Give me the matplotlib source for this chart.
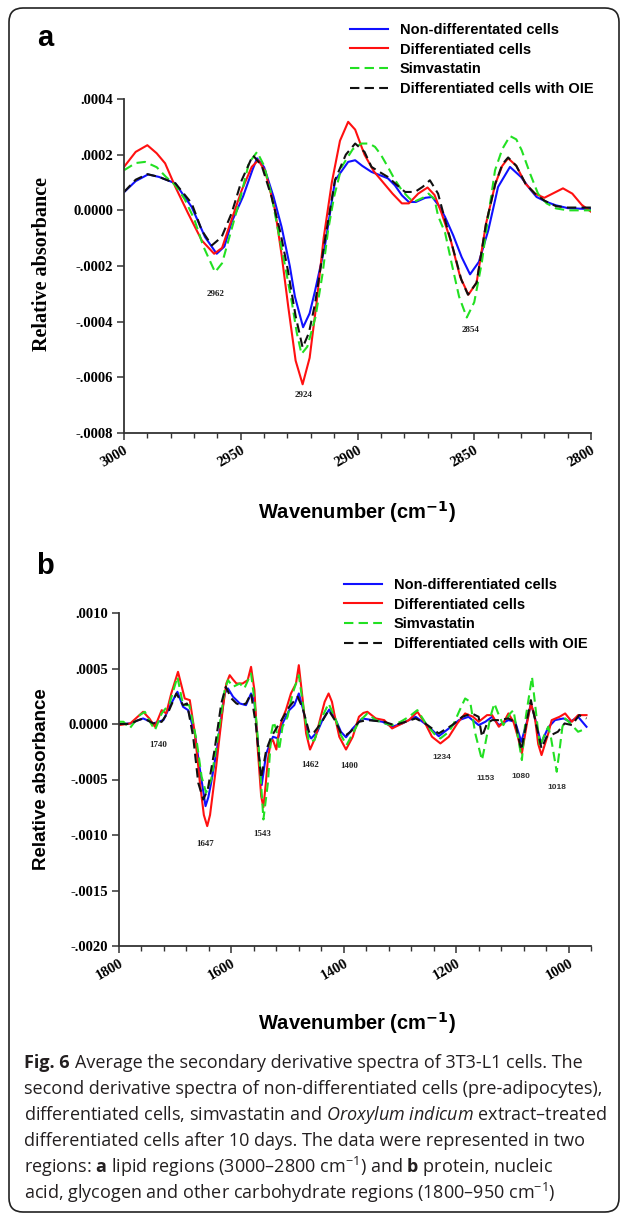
import matplotlib
matplotlib.use('Agg')
import matplotlib.pyplot as plt
from matplotlib.patches import FancyBboxPatch
from matplotlib.transforms import IdentityTransform
from matplotlib.ticker import FuncFormatter, MultipleLocator

# values in units of 1e-4 (relative absorbance), x in cm-1
A_BLUE = [(3000, 0.65), (2995, 1.05), (2989.7, 1.29), (2985, 1.2), (2978, 0.97), (2975, 0.6), (2971, 0.12),
          (2965.3, -0.96), (2960.3, -1.56), (2957, -1.3), (2953.9, -0.42), (2949, 0.5), (2945, 1.45),
          (2943, 1.87), (2940, 1.55), (2936, 0.5), (2932.5, -0.6), (2929, -2.0), (2926.8, -3.1),
          (2923.3, -4.2), (2920.5, -3.7), (2918.2, -2.9), (2914, -1.3), (2909.6, 1.08), (2904, 1.74),
          (2901, 1.8), (2898, 1.6), (2894, 1.38), (2890, 1.25), (2887, 1.15), (2884, 0.9), (2881, 0.54),
          (2878, 0.3), (2875, 0.3), (2871, 0.45), (2868, 0.48), (2865, 0.15), (2862.5, -0.24),
          (2859, -0.9), (2855.4, -1.68), (2851.8, -2.3), (2848, -1.85), (2844, -0.72), (2839.8, 0.84),
          (2834.7, 1.56), (2830, 1.2), (2826, 0.75), (2823.3, 0.48), (2819, 0.3), (2815, 0.18),
          (2810, 0.08), (2805, 0.06), (2800, 0.05)]
A_RED = [(3000, 1.56), (2995, 2.1), (2990, 2.34), (2986, 2.05), (2982.4, 1.69), (2978, 0.84),
         (2972.6, -0.1), (2966.7, -1.08), (2961.4, -1.56), (2958, -1.35), (2955.5, -0.72), (2949.6, 0.72),
         (2945.3, 1.56), (2942.5, 1.8), (2939.5, 1.4), (2935.3, 0.0), (2932.5, -1.6), (2929.6, -3.5),
         (2926.5, -5.4), (2923.5, -6.25), (2920.5, -5.3), (2917.5, -3.3), (2914.5, -1.0), (2911, 1.0),
         (2907.5, 2.5), (2904, 3.18), (2901, 2.9), (2897, 2.0), (2893, 1.4), (2889, 1.0), (2885, 0.6),
         (2881, 0.25), (2878, 0.25), (2874, 0.6), (2870, 0.82), (2867, 0.55), (2864, -0.1), (2860, -1.1),
         (2856, -2.4), (2852.5, -3.03), (2849, -2.6), (2845, -0.5), (2841, 0.95), (2838, 1.6),
         (2835.5, 1.87), (2832, 1.6), (2828, 0.95), (2824, 0.6), (2820, 0.45), (2816, 0.62),
         (2812, 0.79), (2808, 0.6), (2804, 0.2), (2800, -0.05)]
A_GREEN = [(3000, 1.44), (2995, 1.7), (2991, 1.74), (2986, 1.55), (2982, 1.2), (2978, 0.9), (2974, 0.4),
           (2970, -0.3), (2966, -1.3), (2961, -2.22), (2958, -1.9), (2954, -0.7), (2950, 0.5),
           (2946.5, 1.7), (2943, 2.1), (2940, 1.6), (2937, 0.6), (2934, -0.72), (2931, -2.0),
           (2928, -3.36), (2926, -4.4), (2924, -5.16), (2921.5, -4.9), (2918, -3.84), (2915, -2.3),
           (2912.6, -0.72), (2910, 0.5), (2906.8, 1.56), (2902, 2.2), (2898.3, 2.4), (2895, 2.4),
           (2892.5, 2.28), (2890, 2.0), (2887, 1.56), (2884, 1.1), (2881, 0.72), (2878, 0.45),
           (2876, 0.3), (2872, 0.45), (2869.6, 0.6), (2867, 0.4), (2865.5, -0.2), (2862.5, -0.8),
           (2859.7, -1.9), (2856.5, -3.1), (2853.2, -3.85), (2850, -3.3), (2846.8, -1.9), (2844, -0.2),
           (2841.1, 1.44), (2838, 2.2), (2834.7, 2.67), (2832, 2.55), (2829.7, 2.16), (2826, 1.3),
           (2822.7, 0.6), (2819, 0.25), (2815, 0.07), (2810, 0.0), (2805, 0.0), (2800, 0.0)]
A_BLACK = [(3000, 0.66), (2995, 1.1), (2990, 1.3), (2985, 1.2), (2978, 0.97), (2971, 0.25),
           (2966.7, -0.72), (2962.4, -1.26), (2958.2, -0.96), (2953.9, -0.1), (2949.6, 1.08),
           (2944.8, 1.98), (2941, 1.6), (2936.8, 0.48), (2933, -0.8), (2929.8, -2.16), (2926.5, -3.8),
           (2923.5, -4.93), (2920.8, -4.4), (2918.2, -3.36), (2914, -1.08), (2909.6, 1.1), (2905, 2.0),
           (2901, 2.4), (2897, 2.1), (2894, 1.56), (2890, 1.35), (2887, 1.2), (2883, 0.9),
           (2879.6, 0.66), (2875.4, 0.66), (2872, 0.85), (2869, 1.08), (2865.5, 0.6), (2862, -0.5),
           (2859, -1.4), (2855.5, -2.5), (2852.7, -3.03), (2849, -2.6), (2845, -0.5), (2841, 0.95),
           (2838, 1.65), (2835.5, 1.9), (2832, 1.6), (2828, 0.95), (2824, 0.6), (2820, 0.35),
           (2815, 0.15), (2810, 0.1), (2805, 0.1), (2800, 0.1)]

B_BLUE = [(1800, 0), (1780, 0.05), (1768, 0.3), (1757, 0.5), (1748, 0.3), (1739, 0.05), (1721, 0.35),
          (1707, 1.85), (1696, 2.9), (1686, 1.55), (1677, 1.25), (1665, -0.85), (1656, -4.1),
          (1646, -7.4), (1641, -6.6), (1636, -5.3), (1624, -1.75), (1612, 2.75), (1606, 3.2),
          (1597, 2.45), (1585, 1.85), (1574, 1.7), (1565, 2.75), (1559, 2.0), (1553, -1.75),
          (1546, -5.5), (1538, -2.65), (1526, -1.15), (1517, -1.3), (1509, 0.05), (1497, 1.25),
          (1488, 1.7), (1480, 2.75), (1472, 1.25), (1464, -0.85), (1458, -1.3), (1447, -0.7),
          (1438, 0.35), (1426, 1.3), (1414, 0.35), (1405, -0.7), (1396, -1.2), (1384, -0.4),
          (1367, 0.5), (1349, 0.35), (1331, 0.2), (1314, -0.25), (1296, 0.05), (1272, 0.65),
          (1252, -0.1), (1231, -1.1), (1213, -0.4), (1195, 0.35), (1178, 0.65), (1160, -0.1),
          (1148, 0.2), (1136, 0.65), (1124, -0.1), (1107, 0.35), (1095, 0.2), (1084, -1.6),
          (1074, 0.2), (1067, 1.85), (1060, 0.6), (1049, -1.75), (1036, -0.3), (1024, 0.35),
          (1009, 0.5), (997, 0.2), (983, 0.65), (968, -0.25)]
B_RED = [(1800, -0.1), (1780, 0.05), (1768, 0.6), (1757, 1.1), (1746, 0.5), (1736, -0.25), (1730, 0.5),
         (1724, 1.25), (1716, 0.95), (1707, 2.75), (1695, 4.7), (1689, 3.5), (1683, 2.3), (1674, 2.15),
         (1665, -0.85), (1656, -5.3), (1649, -8.2), (1643, -9.2), (1638, -8.2), (1633, -6.2),
         (1627, -3.8), (1621, -1.1), (1615, 1.5), (1609, 3.65), (1603, 4.4), (1597, 4.0), (1591, 3.65),
         (1580, 3.65), (1571, 3.95), (1565, 5.15), (1559, 3.05), (1553, -2.3), (1547, -6.5),
         (1543, -7.5), (1539, -5.5), (1535, -3.2), (1530, -1.6), (1526, -1.45), (1520, -2.3),
         (1515, -0.55), (1509, 0.5), (1503, 1.25), (1494, 2.75), (1485, 3.65), (1480, 5.3),
         (1473, 2.15), (1467, -0.85), (1460, -2.3), (1450, -1.15), (1441, 0.65), (1434, 2.0),
         (1427, 2.75), (1421, 2.0), (1417, 0.95), (1408, -1.15), (1396, -2.3), (1384, -1.15),
         (1373, 0.65), (1365, 1.0), (1358, 1.1), (1343, 0.5), (1328, 0.35), (1314, -0.4), (1302, -0.1),
         (1284, 0.35), (1269, 1.1), (1255, 0.05), (1243, -1.15), (1228, -1.75), (1213, -1.15),
         (1198, 0.05), (1184, 0.95), (1170, 0.65), (1160, 0.2), (1145, 0.8), (1136, 0.8),
         (1124, -0.25), (1115, 0.2), (1107, 0.95), (1098, 0.2), (1090, -1.2), (1083, -2.65),
         (1074, 0.05), (1067, 1.85), (1060, 0.65), (1054, -1.8), (1048, -2.8), (1036, -0.85),
         (1030, 0.35), (1016, 0.65), (1006, 0.95), (994, 0.2), (983, 0.8), (968, 0.8)]
B_GREEN = [(1800, 0.2), (1792, 0.2), (1781, -0.4), (1763, 0.8), (1754, 1.1), (1745, 0.2), (1736, -0.55),
           (1724, 0.95), (1710, 1.85), (1696, 4.25), (1686, 1.7), (1675, 1.7), (1662, -1.45),
           (1653, -4.75), (1645, -6.2), (1636, -5.0), (1624, -1.15), (1612, 3.05), (1606, 3.95),
           (1597, 3.35), (1585, 3.65), (1577, 3.2), (1565, 4.55), (1559, 2.15), (1551, -2.35),
           (1543, -8.6), (1535, -5.3), (1529, -0.85), (1525, 0.2), (1520, -0.5), (1515, -2.35),
           (1509, -0.25), (1500, 0.65), (1491, 2.75), (1480, 4.4), (1472, 1.55), (1462, -1.6),
           (1452, -1.45), (1441, 0.35), (1427, 1.85), (1414, 0.35), (1405, -1.0), (1395, -1.9),
           (1384, -0.85), (1373, 0.2), (1358, 0.95), (1343, 0.35), (1328, 0.05), (1314, -0.1),
           (1299, 0.2), (1284, 0.65), (1269, 1.25), (1252, -0.1), (1237, -1.0), (1228, -1.3),
           (1213, -0.7), (1204, 0.05), (1195, 1.1), (1184, 2.3), (1175, 2.0), (1166, -0.85),
           (1154, -3.25), (1148, -1.75), (1139, 0.65), (1132, 1.85), (1124, 0.8), (1116, -0.1),
           (1104, 0.95), (1098, 1.25), (1090, -1.15), (1083, -3.25), (1076, 0.65), (1065, 4.25),
           (1059, 1.55), (1051, -2.05), (1042, -0.85), (1036, -0.25), (1031, -1.3), (1021, -4.3),
           (1016, -2.35), (1011, -0.3), (1006, 0.5), (994, -0.1), (983, -0.7), (968, -0.4)]
B_BLACK = [(1800, 0), (1780, 0), (1768, 0.3), (1757, 0.5), (1748, 0.3), (1739, 0.05), (1724, 0.2),
           (1712, 1.1), (1698, 2.75), (1686, 1.7), (1679, 1.85), (1668, -1.15), (1659, -5.3),
           (1650, -6.8), (1642, -5.9), (1630, -2.35), (1618, 1.85), (1610, 3.35), (1600, 2.3),
           (1591, 1.85), (1583, 1.7), (1574, 1.85), (1565, 2.75), (1556, -0.25), (1547, -4.9),
           (1538, -2.35), (1529, -1.15), (1520, -0.4), (1509, 0.5), (1497, 1.55), (1482, 2.45),
           (1473, 1.4), (1461, -0.85), (1452, -0.7), (1440, 0.1), (1427, 1.25), (1414, 0.2),
           (1405, -0.85), (1396, -1.0), (1388, -0.7), (1373, 0.2), (1358, 0.35), (1328, 0.2),
           (1310, -0.1), (1290, 0.2), (1272, 0.5), (1255, 0.05), (1231, -0.85), (1207, -0.1),
           (1189, 0.65), (1172, 0.95), (1160, 0.65), (1154, -1.15), (1145, 0.05), (1136, 0.35),
           (1124, 0.35), (1107, 0.5), (1095, 0.2), (1084, -2.35), (1074, 0.35), (1067, 2.15),
           (1060, 0.5), (1048, -2.2), (1039, -1.15), (1031, -1.0), (1019, -0.7), (1007, 0.05),
           (994, -0.1), (981, 0.8), (968, 0.5)]

LABELS_A = ['Non-differentated cells', 'Differentiated cells', 'Simvastatin', 'Differentiated cells with OIE']
LABELS_B = ['Non-differentiated cells', 'Differentiated cells', 'Simvastatin', 'Differentiated cells with OIE']

# peak labels: text, wavenumber, y (1e-4)
PEAKS_A = [('2962', 2961, -2.99), ('2924', 2923.3, -6.63), ('2854', 2851.8, -4.29)]
PEAKS_B_SERIF = [('1740', 1731, -1.9), ('1647', 1646, -10.8), ('1543', 1545, -9.9),
                 ('1462', 1460, -3.7), ('1400', 1390, -3.8)]
PEAKS_B_SANS = [('1234', 1225, -3.0), ('1153', 1147, -4.9), ('1080', 1084, -4.7), ('1018', 1021, -5.7)]

CAPTION_HEAD = 'Fig. 6'
CAPTION = [
    "Average the secondary derivative spectra of 3T3-L1 cells. The",
    "second derivative spectra of non-differentiated cells (pre-adipocytes),",
    r"differentiated cells, simvastatin and $\mathit{Oroxylum}$ $\mathit{indicum}$ extract–treated",
    "differentiated cells after 10 days. The data were represented in two",
    r"regions: $\mathbf{a}$ lipid regions (3000–2800 cm$^{-1}$) and $\mathbf{b}$ protein, nucleic",
    r"acid, glycogen and other carbohydrate regions (1800–950 cm$^{-1}$)",
]

plt.rcParams['mathtext.fontset'] = 'custom'
plt.rcParams['mathtext.rm'] = 'Open Sans'
plt.rcParams['mathtext.it'] = 'Open Sans:italic'
plt.rcParams['mathtext.bf'] = 'Open Sans:bold'

SERIF = 'Liberation Serif'
SANS = 'Liberation Sans'
STYLES = [dict(color='#1010ff', ls='-'), dict(color='#ff1010', ls='-'),
          dict(color='#22e022', ls=(0, (4.5, 2.5))), dict(color='#111111', ls=(0, (4.5, 2.5)))]
W, H = 627, 1215


def fmt_tick(v, _pos):
    if abs(v) < 1e-12:
        return '0.0000'
    s = f'{v:.4f}'
    return s.replace('0.', '.', 1)


def setup_axes(ax, xlim, ylim, xmajor, xminor, ystep):
    ax.set_xlim(*xlim)
    ax.set_ylim(*ylim)
    ax.xaxis.set_major_locator(MultipleLocator(xmajor))
    ax.xaxis.set_minor_locator(MultipleLocator(xminor))
    ax.yaxis.set_major_locator(MultipleLocator(ystep))
    ax.yaxis.set_major_formatter(FuncFormatter(fmt_tick))
    ax.xaxis.set_major_formatter(FuncFormatter(lambda v, p: f'{v:.0f}'))
    for s in ['top', 'right']:
        ax.spines[s].set_visible(False)
    for s in ['left', 'bottom']:
        ax.spines[s].set_linewidth(1.3)
        ax.spines[s].set_color('#333333')
    ax.tick_params(which='major', direction='out', length=5, width=1.1, color='#333333', pad=3)
    ax.tick_params(which='minor', direction='out', length=3.5, width=1.0, color='#333333')
    ax.tick_params(axis='y', which='minor', left=False)
    for lab in ax.get_yticklabels():
        lab.set_fontfamily(SERIF)
        lab.set_fontweight('bold')
        lab.set_fontsize(10.5)
    for lab in ax.get_xticklabels():
        lab.set_fontfamily(SERIF)
        lab.set_fontweight('bold')
        lab.set_fontsize(10.5)
        lab.set_rotation(30)
        lab.set_rotation_mode('anchor')
        lab.set_ha('right')
        lab.set_va('top')
    ax.patch.set_alpha(0)


def draw(ax, series, labels):
    handles = []
    for data, st, lab in zip(series, STYLES, labels):
        xs = [p[0] for p in data]
        ys = [p[1] * 1e-4 for p in data]
        h, = ax.plot(xs, ys, color=st['color'], linestyle=st['ls'], linewidth=1.5, label=lab)
        handles.append(h)
    return handles


fig = plt.figure(figsize=(W / 100, H / 100), dpi=100)

ax_a = fig.add_axes([124 / W, 1 - 433 / H, 467 / W, 334 / H])
ax_b = fig.add_axes([119 / W, 1 - 946 / H, 472 / W, 333 / H])

h_a = draw(ax_a, [A_BLUE, A_RED, A_GREEN, A_BLACK], LABELS_A)
h_b = draw(ax_b, [B_BLUE, B_RED, B_GREEN, B_BLACK], LABELS_B)

setup_axes(ax_a, (3000, 2800), (-0.0008, 0.0004), 50, 10, 0.0002)
setup_axes(ax_b, (1800, 960), (-0.0020, 0.0010), 200, 40, 0.0005)

for txt, x, y in PEAKS_A:
    ax_a.text(x, y * 1e-4, txt, fontfamily=SERIF, fontweight='bold', fontsize=6.5,
              ha='center', va='center', color='#222222')
for txt, x, y in PEAKS_B_SERIF:
    ax_b.text(x, y * 1e-4, txt, fontfamily=SERIF, fontweight='bold', fontsize=6.5,
              ha='center', va='center', color='#222222')
for txt, x, y in PEAKS_B_SANS:
    ax_b.text(x, y * 1e-4, txt, fontfamily=SANS, fontweight='bold', fontsize=6,
              ha='center', va='center', color='#333333')

leg_kw = dict(loc='upper left', frameon=False, prop=dict(family=SANS, weight='bold', size=10.5),
              handlelength=2.6, handletextpad=0.8, labelspacing=0.38, borderpad=0, borderaxespad=0)
fig.legend(handles=h_a, bbox_to_anchor=(350 / W, 1 - 23 / H), **leg_kw)
fig.legend(handles=h_b, bbox_to_anchor=(344 / W, 1 - 578 / H), **leg_kw)

# panel letters
fig.text(45 / W, 1 - 38 / H, 'a', fontfamily=SANS, fontweight='bold', fontsize=21, ha='center', va='center')
fig.text(45 / W, 1 - 566 / H, 'b', fontfamily=SANS, fontweight='bold', fontsize=21, ha='center', va='center')

# axis titles
fig.text(42 / W, 1 - 264 / H, 'Relative absorbance', fontfamily=SERIF, fontweight='bold', fontsize=14.5,
         rotation=90, ha='center', va='center')
fig.text(42 / W, 1 - 779 / H, 'Relative absorbance', fontfamily=SANS, fontweight='bold', fontsize=13.5,
         rotation=90, ha='center', va='center')
for yy in (512, 1023):
    fig.text(357 / W, 1 - yy / H, r'Wavenumber (cm$^{\mathbf{-1}}$)', fontfamily=SANS, fontweight='bold',
             fontsize=14.5, ha='center', va='center', math_fontfamily='dejavusans')

# caption
cap_kw = dict(fontfamily='Open Sans', fontsize=13, ha='left', va='center', color='#231f20')
head = fig.text(24 / W, 1 - 1063 / H, CAPTION_HEAD, fontweight='bold', **cap_kw)
renderer = fig.canvas.get_renderer()
head_w = head.get_window_extent(renderer=renderer).width
for i, line in enumerate(CAPTION):
    x0 = (24 + head_w + 5) / W if i == 0 else 24 / W
    fig.text(x0, 1 - (1063 + 26 * i) / H, line, **cap_kw)

# rounded frame
frame = FancyBboxPatch((9, 3), 610, 1204, boxstyle='round,pad=0,rounding_size=14',
                       transform=IdentityTransform(), fill=False, linewidth=1.2, edgecolor='#222222')
fig.patches.append(frame)

fig.savefig('out.png', dpi=100)
